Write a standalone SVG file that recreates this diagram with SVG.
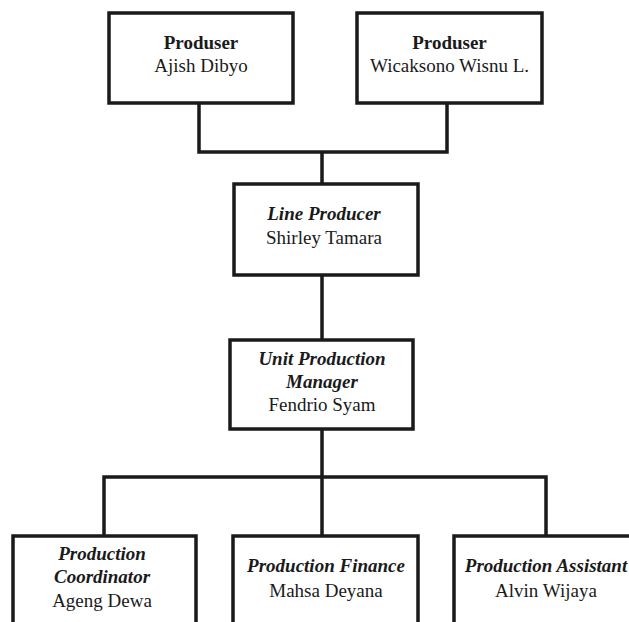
<svg xmlns="http://www.w3.org/2000/svg" width="629" height="622" viewBox="0 0 629 622">
<style>
.box{fill:#fff;stroke:#1a1a1a;stroke-width:3.5}
.ln{fill:none;stroke:#1a1a1a;stroke-width:3.5;stroke-linejoin:miter}
text{font-family:"Liberation Serif","Times New Roman",serif;font-size:19px;fill:#1a1a1a;text-anchor:middle}
.b{font-weight:bold}
.bi{font-weight:bold;font-style:italic}
</style>
<rect width="629" height="622" fill="#fff"/>
<g id="connectors">
<path class="ln" d="M199,103 V152 H447 V103"/>
<path class="ln" d="M322,152 V184"/>
<path class="ln" d="M322,275 V340"/>
<path class="ln" d="M322,429 V536"/>
<path class="ln" d="M104,536 V477 H546 V536"/>
</g>
<g id="produser1">
<rect class="box" x="109" y="13" width="184" height="90"/>
<text class="b" x="201" y="49">Produser</text>
<text x="201" y="72">Ajish Dibyo</text>
</g>
<g id="produser2">
<rect class="box" x="357" y="13" width="185" height="90"/>
<text class="b" x="449.5" y="49">Produser</text>
<text x="449.5" y="72">Wicaksono Wisnu L.</text>
</g>
<g id="line-producer">
<rect class="box" x="234" y="184" width="184" height="91"/>
<text class="bi" x="324" y="220">Line Producer</text>
<text x="324" y="244">Shirley Tamara</text>
</g>
<g id="upm">
<rect class="box" x="230" y="340" width="183" height="89"/>
<text class="bi" x="322" y="365">Unit Production</text>
<text class="bi" x="322" y="388">Manager</text>
<text x="322" y="411">Fendrio Syam</text>
</g>
<g id="coordinator">
<rect class="box" x="13" y="536" width="183" height="110"/>
<text class="bi" x="102" y="560">Production</text>
<text class="bi" x="102" y="583">Coordinator</text>
<text x="102" y="607">Ageng Dewa</text>
</g>
<g id="finance">
<rect class="box" x="233" y="536" width="185" height="110"/>
<text class="bi" x="326" y="572">Production Finance</text>
<text x="326" y="597">Mahsa Deyana</text>
</g>
<g id="assistant">
<rect class="box" x="454" y="536" width="186" height="110"/>
<text class="bi" x="546" y="572">Production Assistant</text>
<text x="546" y="597">Alvin Wijaya</text>
</g>
</svg>
